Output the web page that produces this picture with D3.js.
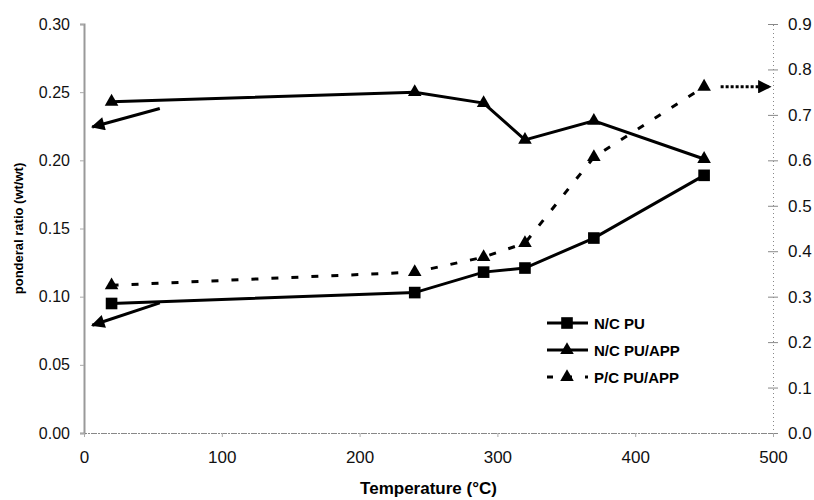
<!DOCTYPE html>
<html><head><meta charset="utf-8">
<script src="https://cdn.jsdelivr.net/npm/d3@7"></script>
<style>body{margin:0;background:#fff}svg{display:block}text{font-family:"Liberation Sans",Arial,sans-serif}</style>
</head><body><svg id="c" width="814" height="500"></svg>
<script>
const temps = [20, 240, 290, 320, 370, 450];
const ncPU = [0.095, 0.103, 0.118, 0.121, 0.143, 0.189];
const ncPUAPP = [0.243, 0.250, 0.242, 0.215, 0.229, 0.201];
const pcPUAPP = [0.325, 0.354, 0.387, 0.418, 0.607, 0.762];
const xTicks = [0, 100, 200, 300, 400, 500];
const yLeftTicks = [0, 0.05, 0.10, 0.15, 0.20, 0.25, 0.30];
const yRightTicks = [0, 0.1, 0.2, 0.3, 0.4, 0.5, 0.6, 0.7, 0.8, 0.9];
const seriesNames = ["N/C PU", "N/C PU/APP", "P/C PU/APP"];
// annotation arrows in data units: [x1, y1, x2, y2, axis]
const arrows = [
  [55, 0.238, 6, 0.2245, "L"],
  [55, 0.0955, 6, 0.079, "L"],
  [462, 0.762, 498, 0.762, "R"]
];

const svg = d3.select("#c");
const L = 84, R = 773, T = 24, B = 433;
const x = d3.scaleLinear().domain([0, 500]).range([L, R]);
const yL = d3.scaleLinear().domain([0, 0.30]).range([B, T]);
const yR = d3.scaleLinear().domain([0, 0.9]).range([B, T]);

svg.append("defs").append("marker").attr("id","ah").attr("viewBox","0 0 10 10")
  .attr("refX",9).attr("refY",5).attr("markerWidth",5.5).attr("markerHeight",4.5)
  .attr("markerUnits","strokeWidth").attr("orient","auto")
  .append("path").attr("d","M0,0L10,5L0,10z").attr("fill","#000");

// left axis
const gl = svg.append("g").attr("transform",`translate(${L},0)`)
  .call(d3.axisLeft(yL).tickValues(yLeftTicks).tickFormat(d3.format(".2f")).tickSize(4).tickPadding(10));
gl.select(".domain").attr("stroke","#999").attr("stroke-width",2);
gl.selectAll(".tick line").attr("stroke","#aaa");
gl.selectAll("text").attr("font-size",16).attr("fill","#111");

// right axis
const gr = svg.append("g").attr("transform",`translate(${R},0)`)
  .call(d3.axisRight(yR).tickValues(yRightTicks).tickFormat(d3.format(".1f")).tickSize(5).tickPadding(10));
gr.select(".domain").attr("stroke","#888").attr("stroke-dasharray","1,3").attr("stroke-width",1);
gr.selectAll(".tick line").attr("stroke","#888").attr("x1",-5);
gr.selectAll("text").attr("font-size",17).attr("fill","#111");

// bottom axis
const gb = svg.append("g").attr("transform",`translate(0,${B})`)
  .call(d3.axisBottom(x).tickValues(xTicks).tickSize(4).tickPadding(14));
gb.select(".domain").attr("stroke","#888").attr("stroke-dasharray","6,1,2,1").attr("stroke-width",1);
gb.selectAll(".tick line").attr("stroke","#aaa");
gb.selectAll("text").attr("font-size",17).attr("fill","#111");

// titles
svg.append("text").attr("x",(L+R)/2).attr("y",494).attr("text-anchor","middle")
  .attr("font-size",17).attr("font-weight","bold").text("Temperature (°C)");
svg.append("text").attr("transform",`translate(23,${(T+B)/2}) rotate(-90)`).attr("text-anchor","middle")
  .attr("font-size",13).attr("font-weight","bold").text("ponderal ratio (wt/wt)");

const line = (ys, yScale) => d3.line().x((d,i)=>x(temps[i])).y(d=>yScale(d))(ys);
const tri = d3.symbol().type(d3.symbolTriangle).size(80);
const sq = d3.symbol().type(d3.symbolSquare).size(135);

// P/C PU/APP dashed (right axis)
svg.append("path").attr("d", line(pcPUAPP, yR)).attr("fill","none").attr("stroke","#000")
  .attr("stroke-width",3).attr("stroke-dasharray","7,13");
svg.selectAll(".pc").data(pcPUAPP).enter().append("path").attr("d",tri)
  .attr("transform",(d,i)=>`translate(${x(temps[i])},${yR(d)})`).attr("fill","#000");

// N/C PU/APP
svg.append("path").attr("d", line(ncPUAPP, yL)).attr("fill","none").attr("stroke","#000").attr("stroke-width",3);
svg.selectAll(".na").data(ncPUAPP).enter().append("path").attr("d",tri)
  .attr("transform",(d,i)=>`translate(${x(temps[i])},${yL(d)})`).attr("fill","#000");

// N/C PU
svg.append("path").attr("d", line(ncPU, yL)).attr("fill","none").attr("stroke","#000").attr("stroke-width",3);
svg.selectAll(".np").data(ncPU).enter().append("path").attr("d",sq)
  .attr("transform",(d,i)=>`translate(${x(temps[i])},${yL(d)})`).attr("fill","#000");

// arrows
arrows.forEach(a => {
  const ys = a[4] === "L" ? yL : yR;
  svg.append("line").attr("x1",x(a[0])).attr("y1",ys(a[1])).attr("x2",x(a[2])).attr("y2",ys(a[3]))
    .attr("stroke","#000").attr("stroke-width",3)
    .attr("stroke-dasharray", a[4]==="R" ? "3,2" : null)
    .attr("marker-end","url(#ah)");
});

// legend
const lg = svg.append("g").attr("transform","translate(547,323)");
seriesNames.forEach((n,i) => {
  const g = lg.append("g").attr("transform",`translate(0,${i*27})`);
  g.append("line").attr("x1",0).attr("x2",41).attr("y1",0).attr("y2",0).attr("stroke","#000")
    .attr("stroke-width",3).attr("stroke-dasharray", i===2 ? "6,13" : null);
  g.append("path").attr("d", i===0 ? sq : tri).attr("transform","translate(20,0)").attr("fill","#000");
  g.append("text").attr("x",47).attr("y",5.5).attr("font-size",15).attr("font-weight","bold").text(n);
});
</script></body></html>
